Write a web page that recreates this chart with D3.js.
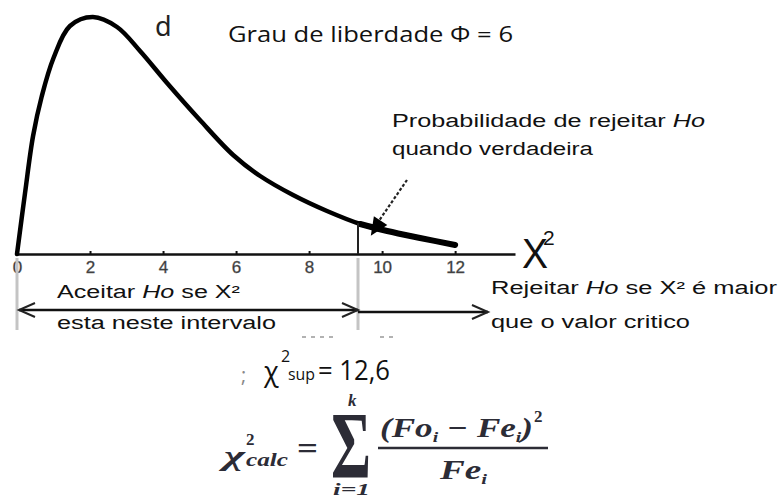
<!DOCTYPE html>
<html>
<head>
<meta charset="utf-8">
<script src="https://cdn.jsdelivr.net/npm/d3@7"></script>
<style>
  body { margin: 0; background: #fff; }
  svg { display: block; }
</style>
</head>
<body>
<div class="wrapper"></div>
<script>
//Data
var curveX = [0, 0.22, 0.44, 0.68, 1.0, 1.45, 2.08, 2.74, 3.37, 4.11, 5.01, 5.92, 6.66, 7.56, 8.49, 9.4, 10.14, 11.04, 12.0];
var curveY = [0, 0.061, 0.118, 0.158, 0.196, 0.228, 0.237, 0.227, 0.203, 0.171, 0.134, 0.099, 0.078, 0.059, 0.043, 0.030, 0.023, 0.016, 0.009];
var tickValues = [0, 2, 4, 6, 8, 10, 12];
var critical = 9.34;
var rejectEnd = 12.9;
var pointer = 9.8;

var width = 779, height = 500;

var svg = d3.select(".wrapper").append("svg")
    .attr("width", width)
    .attr("height", height);

//Scales
var x = d3.scaleLinear().domain([0, 13.64]).range([17, 515]);
var y = d3.scaleLinear().domain([0, 0.237]).range([254, 17]);

var points = curveX.map(function(d, i) { return [d, curveY[i]]; });
function curveAt(v) {
  var i = d3.bisector(function(p) { return p[0]; }).left(points, v);
  var a = points[Math.max(i - 1, 0)], b = points[Math.min(i, points.length - 1)];
  if (a[0] === b[0]) return a[1];
  return a[1] + (b[1] - a[1]) * (v - a[0]) / (b[0] - a[0]);
}

//Axis
var xAxis = d3.axisBottom(x).tickValues(tickValues).tickSizeInner(-3).tickSizeOuter(0).tickPadding(7);
var gx = svg.append("g")
    .attr("class", "x axis")
    .attr("transform", "translate(0," + y(0) + ")")
    .call(xAxis);
gx.select(".domain").attr("stroke", "#111").attr("stroke-width", 2.5);
gx.selectAll(".tick line").attr("stroke", "#111").attr("stroke-width", 2);
gx.selectAll(".tick text")
    .attr("fill", "#333")
    .attr("stroke", "#666").attr("stroke-width", 0.4)
    .style("font-family", "'Liberation Sans', Arial, sans-serif")
    .style("font-size", "17px");

//Curve
var line = d3.line()
    .x(function(d) { return x(d[0]); })
    .y(function(d) { return y(d[1]); })
    .curve(d3.curveCatmullRom.alpha(0.5));

svg.append("path")
    .datum(points)
    .attr("fill", "none")
    .attr("stroke", "#000")
    .attr("stroke-width", 4.5)
    .attr("stroke-linecap", "round")
    .attr("d", line);

svg.append("path")
    .datum(points.filter(function(d) { return d[0] >= 9.4; }))
    .attr("fill", "none")
    .attr("stroke", "#000")
    .attr("stroke-width", 6)
    .attr("stroke-linecap", "round")
    .attr("d", line);

//Critical value line
svg.append("line")
    .attr("x1", x(critical)).attr("x2", x(critical))
    .attr("y1", y(0)).attr("y2", y(curveAt(critical)))
    .attr("stroke", "#222").attr("stroke-width", 2);

//Grey guides under the axis
[0, critical].forEach(function(v) {
  svg.append("line")
      .attr("x1", x(v)).attr("x2", x(v))
      .attr("y1", 258).attr("y2", 330)
      .attr("stroke", "#c4c4c4").attr("stroke-width", 3);
});

//Arrows
function openHead(px, py, dir) {
  svg.append("path")
      .attr("d", "M" + (px - dir * 16) + "," + (py - 7) + "L" + px + "," + py + "L" + (px - dir * 16) + "," + (py + 7))
      .attr("fill", "none").attr("stroke", "#222").attr("stroke-width", 2);
}
svg.append("line")
    .attr("x1", x(0) + 2).attr("x2", x(critical))
    .attr("y1", 310).attr("y2", 310)
    .attr("stroke", "#111").attr("stroke-width", 2.5);
openHead(x(0) + 2, 310, -1);
openHead(x(critical), 310, 1);
svg.append("line")
    .attr("x1", x(critical)).attr("x2", x(rejectEnd))
    .attr("y1", 312).attr("y2", 312)
    .attr("stroke", "#111").attr("stroke-width", 2.5);
openHead(x(rejectEnd), 312, 1);

//Dashed pointer to the tail
var tip = [x(pointer) - 4, y(curveAt(pointer)) + 8];
var start = [407, 180];
svg.append("line")
    .attr("x1", start[0]).attr("y1", start[1])
    .attr("x2", tip[0] + 4).attr("y2", tip[1] - 9)
    .attr("stroke", "#222").attr("stroke-width", 2.2)
    .attr("stroke-dasharray", "3,2");
var ang = Math.atan2(tip[1] - start[1], tip[0] - start[0]);
var hl = 18, hw = 8;
var bx = tip[0] - hl * Math.cos(ang), by = tip[1] - hl * Math.sin(ang);
svg.append("path")
    .attr("d", "M" + tip[0] + "," + tip[1] +
      "L" + (bx + hw * Math.sin(ang)) + "," + (by - hw * Math.cos(ang)) +
      "L" + (bx - hw * Math.sin(ang)) + "," + (by + hw * Math.cos(ang)) + "Z")
    .attr("fill", "#000");

//Faint leftovers
[[302, 333], [380, 395]].forEach(function(s) {
  svg.append("line")
      .attr("x1", s[0]).attr("x2", s[1]).attr("y1", 337).attr("y2", 337)
      .attr("stroke", "#999").attr("stroke-width", 1.5).attr("stroke-dasharray", "4,5");
});

//Texts
var sans = "'Liberation Sans', Arial, sans-serif";
function label(tx, ty, len, parts, size) {
  var t = svg.append("text")
      .attr("x", tx).attr("y", ty)
      .attr("textLength", len).attr("lengthAdjust", "spacingAndGlyphs")
      .attr("fill", "#111")
      .style("font-family", sans)
      .style("font-size", (size || 18) + "px");
  parts.forEach(function(p) {
    t.append("tspan").style("font-style", p[1] ? "italic" : "normal").text(p[0]);
  });
  return t;
}
label(392, 127, 313, [["Probabilidade de rejeitar ", 0], ["Ho", 1]]);
label(392, 155, 201, [["quando verdadeira", 0]]);
label(57, 298, 183, [["Aceitar ", 0], ["Ho", 1], [" se X²", 0]]);
label(57, 329, 219, [["esta neste intervalo", 0]]);
label(491, 294, 286, [["Rejeitar ", 0], ["Ho", 1], [" se X² é maior", 0]]);
label(491, 328, 199, [["que o valor critico", 0]]);

//Axis name
svg.append("text").attr("x", 522).attr("y", 268)
    .attr("textLength", 26).attr("lengthAdjust", "spacingAndGlyphs")
    .style("font-family", sans).style("font-size", "43px").attr("fill", "#111").text("X");
svg.append("text").attr("x", 543).attr("y", 245)
    .style("font-family", sans).style("font-size", "21px").attr("fill", "#111").text("2");

svg.append("text").attr("x", 155).attr("y", 36)
    .style("font-family", "'Noto Sans', sans-serif").style("font-size", "27px").attr("fill", "#222").text("d");

var calibri = "'Open Sans', 'Noto Sans', sans-serif";
svg.append("text").attr("x", 228).attr("y", 42)
    .attr("textLength", 285).attr("lengthAdjust", "spacingAndGlyphs")
    .style("font-family", calibri).style("font-size", "21px").attr("fill", "#111")
    .text("Grau de liberdade Φ = 6");

//Critical value line of text
svg.append("text").attr("x", 241).attr("y", 382)
    .style("font-family", calibri).style("font-size", "20px").attr("fill", "#888").text(";");
svg.append("text").attr("x", 264).attr("y", 381)
    .style("font-family", calibri).style("font-size", "27px").attr("fill", "#111").text("χ");
svg.append("text").attr("x", 281).attr("y", 362)
    .style("font-family", calibri).style("font-size", "16px").attr("fill", "#111").text("2");
svg.append("text").attr("x", 288).attr("y", 380)
    .attr("textLength", 27).attr("lengthAdjust", "spacingAndGlyphs")
    .style("font-family", calibri).style("font-size", "16px").attr("fill", "#111").text("sup");
svg.append("text").attr("x", 318).attr("y", 380)
    .attr("textLength", 72).attr("lengthAdjust", "spacingAndGlyphs")
    .style("font-family", calibri).style("font-size", "27px").attr("fill", "#111").text("= 12,6");

//Formula
var serif = "'Liberation Serif', 'DejaVu Serif', serif";
var ink = "#2c2c36";
function mtext(tx, ty, size, str, opts) {
  opts = opts || {};
  var t = svg.append("text").attr("x", tx).attr("y", ty)
      .style("font-family", serif).style("font-size", size + "px")
      .style("font-weight", "bold")
      .style("font-style", opts.upright ? "normal" : "italic")
      .attr("fill", ink).text(str);
  if (opts.len) t.attr("textLength", opts.len).attr("lengthAdjust", "spacingAndGlyphs");
  return t;
}
mtext(224, 465, 28, "χ", {len: 21});
mtext(246, 445, 17, "2", {upright: true});
mtext(246, 466, 18, "calc", {len: 42});
mtext(297, 459, 32, "=", {upright: true, len: 21});
mtext(331, 478, 96, "Σ", {upright: true, len: 40});
mtext(348, 406, 17, "k");
mtext(333, 495, 16, "i=1", {len: 37});

var num = svg.append("text").attr("x", 380).attr("y", 437)
    .attr("textLength", 153).attr("lengthAdjust", "spacingAndGlyphs")
    .style("font-family", serif).style("font-size", "27px")
    .style("font-weight", "bold").style("font-style", "italic").attr("fill", ink);
num.append("tspan").text("(Fo");
num.append("tspan").attr("dy", 5).style("font-size", "15px").text("i");
num.append("tspan").attr("dy", -5).text(" − Fe");
num.append("tspan").attr("dy", 5).style("font-size", "15px").text("i");
num.append("tspan").attr("dy", -5).text(")");
mtext(534, 422, 17, "2", {upright: true});

svg.append("line").attr("x1", 378).attr("x2", 548).attr("y1", 448).attr("y2", 448)
    .attr("stroke", ink).attr("stroke-width", 2.5);

var den = svg.append("text").attr("x", 440).attr("y", 479)
    .attr("textLength", 47).attr("lengthAdjust", "spacingAndGlyphs")
    .style("font-family", serif).style("font-size", "27px")
    .style("font-weight", "bold").style("font-style", "italic").attr("fill", ink);
den.append("tspan").text("Fe");
den.append("tspan").attr("dy", 5).style("font-size", "15px").text("i");
</script>
</body>
</html>
